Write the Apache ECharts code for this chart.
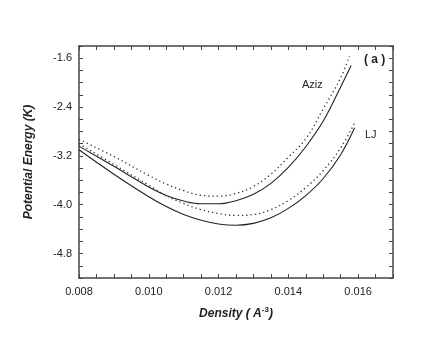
<!DOCTYPE html>
<html>
<head>
<meta charset="utf-8">
<script src="https://cdn.jsdelivr.net/npm/echarts@6/dist/echarts.min.js"></script>
<style>
  html, body { margin: 0; padding: 0; background: #fff; }
  #main { width: 439px; height: 346px; }
</style>
</head>
<body>
<div id="main"></div>
<script>
// density (A^-3) and potential energy (K)
var azizSolidX = [0.008, 0.009, 0.010, 0.0105, 0.011, 0.0115, 0.012, 0.0125, 0.013, 0.0135, 0.014, 0.0145, 0.015, 0.0155, 0.0158];
var azizSolidY = [-3.04, -3.37, -3.71, -3.85, -3.94, -3.985, -3.985, -3.935, -3.83, -3.65, -3.39, -3.05, -2.63, -2.07, -1.72];
var azizDotX = [0.008, 0.009, 0.010, 0.0105, 0.011, 0.0115, 0.012, 0.0125, 0.013, 0.0135, 0.014, 0.0145, 0.015, 0.0155, 0.01575];
var azizDotY = [-2.93, -3.21, -3.52, -3.66, -3.77, -3.845, -3.86, -3.815, -3.70, -3.50, -3.22, -2.92, -2.43, -1.92, -1.57];
var ljSolidX = [0.008, 0.009, 0.010, 0.0105, 0.011, 0.0115, 0.012, 0.0125, 0.013, 0.0135, 0.014, 0.0145, 0.015, 0.0155, 0.0159];
var ljSolidY = [-3.10, -3.50, -3.87, -4.03, -4.16, -4.255, -4.315, -4.335, -4.305, -4.215, -4.06, -3.85, -3.57, -3.18, -2.74];
var ljDotX = [0.008, 0.009, 0.010, 0.0105, 0.011, 0.0115, 0.012, 0.0125, 0.013, 0.0135, 0.014, 0.0145, 0.015, 0.0155, 0.0159];
var ljDotY = [-3.00, -3.34, -3.68, -3.85, -3.98, -4.08, -4.145, -4.175, -4.16, -4.08, -3.93, -3.72, -3.44, -3.07, -2.66];

var xLabels = ['0.008', '0.010', '0.012', '0.014', '0.016'];
var yLabels = ['-4.8', '-4.0', '-3.2', '-2.4', '-1.6'];

function pairs(xs, ys) {
  return xs.map(function (x, i) { return [x, ys[i]]; });
}

var font = 'Liberation Sans, Arial, sans-serif';
var boxLine = { show: true, lineStyle: { color: '#444', width: 1.5 } };

function xAxisCfg(pos, showLabel) {
  return {
    type: 'value', position: pos, min: 0.008, max: 0.017, interval: 0.0005,
    axisLine: boxLine,
    axisTick: { inside: true, length: 4, lineStyle: { color: '#444' } },
    splitLine: { show: false },
    axisLabel: {
      show: showLabel, margin: 8, color: '#222', fontSize: 11, fontFamily: font,
      formatter: function (v) {
        var s = v.toFixed(3);
        return xLabels.indexOf(s) >= 0 ? s : '';
      }
    }
  };
}

function yAxisCfg(pos, showLabel) {
  return {
    type: 'value', position: pos, min: -5.2, max: -1.4, interval: 0.2,
    axisLine: boxLine,
    axisTick: { inside: true, length: 4, lineStyle: { color: '#444' } },
    splitLine: { show: false },
    axisLabel: {
      show: showLabel, margin: 7, color: '#222', fontSize: 11, fontFamily: font,
      formatter: function (v) {
        var s = v.toFixed(1);
        return yLabels.indexOf(s) >= 0 ? s : '';
      }
    }
  };
}

var chart = echarts.init(document.getElementById('main'));

var xMain = xAxisCfg('bottom', true);
xMain.name = '{t|Density ( A}{s|-3}{t|)}';
xMain.nameLocation = 'middle';
xMain.nameGap = 28;
xMain.nameTextStyle = {
  rich: {
    t: { fontSize: 12, fontWeight: 'bold', fontStyle: 'italic', fontFamily: font, color: '#222' },
    s: { fontSize: 8, fontWeight: 'bold', fontFamily: font, color: '#222', verticalAlign: 'top', padding: [0, 0, 8, 0] }
  }
};

var yMain = yAxisCfg('left', true);
yMain.name = 'Potential Energy (K)';
yMain.nameLocation = 'middle';
yMain.nameGap = 44;
yMain.nameTextStyle = { fontSize: 12, fontWeight: 'bold', fontStyle: 'italic', fontFamily: font, color: '#222' };

var solid = { color: '#222', width: 1.1 };
var dotted = { color: '#333', width: 1.3, type: [1.3, 3] };

function curve(name, xs, ys, style) {
  return {
    name: name, type: 'line', smooth: 0.4, symbol: 'none',
    data: pairs(xs, ys), lineStyle: style
  };
}

chart.setOption({
  animation: false,
  grid: { left: 79, top: 46, right: 46, bottom: 68 },
  xAxis: [xMain, xAxisCfg('top', false)],
  yAxis: [yMain, yAxisCfg('right', false)],
  series: [
    curve('Aziz', azizSolidX, azizSolidY, solid),
    curve('Aziz dotted', azizDotX, azizDotY, dotted),
    curve('LJ', ljSolidX, ljSolidY, solid),
    curve('LJ dotted', ljDotX, ljDotY, dotted)
  ],
  graphic: [
    { type: 'text', left: 302, top: 79, style: { text: 'Aziz', fontSize: 11, fontFamily: font, fill: '#222' } },
    { type: 'text', left: 365, top: 129, style: { text: 'LJ', fontSize: 11, fontFamily: font, fill: '#222' } },
    { type: 'text', left: 364, top: 54, style: { text: '( a )', fontSize: 12, fontWeight: 'bold', fontFamily: font, fill: '#222' } }
  ]
});
</script>
</body>
</html>
